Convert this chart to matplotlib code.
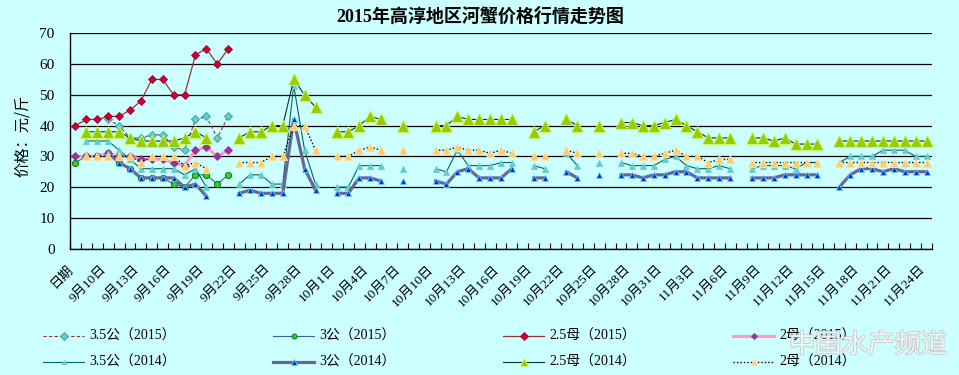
import numpy as np
import matplotlib
matplotlib.use("Agg")
import matplotlib.pyplot as plt
from matplotlib.lines import Line2D
import matplotlib.transforms as mtransforms
import matplotlib.patheffects as pe

plt.rcParams['font.family'] = ['Noto Sans CJK SC', 'DejaVu Sans']

N = None
# category labels (index 0 .. 78); index 1 = 9/8
n_cat = 79
label_idx = list(range(0, 79, 3))
label_txt = ["日期", "9月10日", "9月13日", "9月16日", "9月19日", "9月22日", "9月25日", "9月28日",
             "10月1日", "10月4日", "10月7日", "10月10日", "10月13日", "10月16日", "10月19日",
             "10月22日", "10月25日", "10月28日", "10月31日", "11月3日", "11月6日", "11月9日",
             "11月12日", "11月15日", "11月18日", "11月21日", "11月24日"]

def pad(v):
    return v + [N] * (n_cat - len(v))

s35g_2015 = pad([N, N, N, 42, 40, 36, 36, 37, 37, 33, 32, 42, 43, 36, 43])
s3g_2015 = pad([28, 30, 30, 31, 28, 26, 23, 23, 23, 21, 20, 24, 24, 21, 24])
s25m_2015 = pad([40, 42, 42, 43, 43, 45, 48, 55, 55, 50, 50, 63, 65, 60, 65])
s2m_2015 = pad([30, 30, 30, 31, 30, 30, 29, 29, 29, 28, 27, 32, 33, 30, 32])

s35g_2014 = [N, 35, 35, 35, 32, 29, 26, 26, 26, 26, 24, 26, 20, N, N, 21, 24, 24, 21, 21,
             53, 32, 21, N, 20, 20, 27, 27, 27, N, 26, N, N, 26, 25, 32, 27, 27, 27, 28,
             28, N, 27, 26, N, 31, 27, N, 28, N, 28, 27, 27, 27, 29, 30, 27, 26, 26, 27,
             26, N, 26, 27, 27, 27, 26, 28, 28, N, 28, 30, 30, 30, 32, 32, 32, 30, 30]
s3g_2014 = [N, N, N, 31, 28, 26, 23, 23, 23, 23, 20, 21, 17, N, N, 18, 19, 18, 18, 18,
            42, 26, 19, N, 18, 18, 23, 23, 22, N, 22, N, N, 22, 21, 25, 26, 23, 23, 23,
            26, N, 23, 23, N, 25, 23, N, 24, N, 24, 24, 23, 24, 24, 25, 25, 23, 23, 23,
            23, N, 23, 23, 23, 24, 24, 24, 24, N, 20, 24, 26, 26, 25, 26, 25, 25, 25]
s25m_2014 = [N, 38, 38, 38, 38, 36, 35, 35, 35, 35, 36, 38, 36, N, N, 36, 38, 38, 40, 40,
             55, 50, 46, N, 38, 38, 40, 43, 42, N, 40, N, N, 40, 40, 43, 42, 42, 42, 42,
             42, N, 38, 40, N, 42, 40, N, 40, N, 41, 41, 40, 40, 41, 42, 40, 38, 36, 36,
             36, N, 36, 36, 35, 36, 34, 34, 34, N, 35, 35, 35, 35, 35, 35, 35, 35, 35]
s2m_2014 = [N, 30, 30, 30, 30, 30, 28, 30, 30, 30, 27, 28, 26, N, N, 28, 28, 28, 30, 30,
            40, 40, 32, N, 30, 30, 32, 33, 32, N, 32, N, N, 32, 32, 33, 32, 32, 31, 32,
            31, N, 30, 30, N, 32, 31, N, 31, N, 31, 31, 30, 30, 31, 32, 30, 30, 28, 29,
            29, N, 28, 28, 28, 28, 28, 28, 28, N, 28, 28, 28, 28, 28, 28, 28, 28, 28]

names = ["3.5公（2015）", "3公（2015）", "2.5母（2015）", "2母（2015）",
         "3.5公（2014）", "3公（2014）", "2.5母（2014）", "2母（2014）"]
series = [s35g_2015, s3g_2015, s25m_2015, s2m_2015, s35g_2014, s3g_2014, s25m_2014, s2m_2014]
styles = [
    dict(color='#993333', lw=0.8, ls=(0, (3, 2)), marker='D', ms=4.5, mfc='#66CCCC', mec='#339999'),
    dict(color='#336699', lw=0.8, ls='-', marker='o', ms=4.5, mfc='#33CC33', mec='#006600'),
    dict(color='#993333', lw=0.9, ls='-', marker='D', ms=4.5, mfc='#CC0033', mec='#990033'),
    dict(color='#FF99CC', lw=2.2, ls='-', marker='D', ms=3.8, mfc='#993399', mec='#993399'),
    dict(color='#006666', lw=0.8, ls='-', marker='^', ms=3.8, mfc='#66CCCC', mec='#66CCCC'),
    dict(color='#666699', lw=2.3, ls='-', marker='^', ms=5, mfc='#0033CC', mec='#66CCFF'),
    dict(color='#003333', lw=0.8, ls='-', marker='^', ms=8, mfc='#99CC00', mec='#CCFF66'),
    dict(color='#000000', lw=1.0, ls=(0, (1, 1.5)), marker='^', ms=6, mfc='#FFCC66', mec='#FFE0A0'),
]

W, H = 959, 375
bg = '#CCFFFF'
fig = plt.figure(figsize=(W / 100, H / 100), dpi=100, facecolor=bg)

def fx(px):
    return px / W

def fy(py):
    return 1 - py / H

ax_l, ax_r, ax_t, ax_b = 70, 932, 33.3, 248.7
ax = fig.add_axes([fx(ax_l), fy(ax_b), (ax_r - ax_l) / W, (ax_b - ax_t) / H])
ax.set_facecolor(bg)

x = np.arange(n_cat)
for s, st in zip(series, styles):
    y = np.array([np.nan if v is None else v for v in s], dtype=float)
    ax.plot(x, y, linestyle=st['ls'], color=st['color'], lw=st['lw'], marker=st['marker'],
            ms=st['ms'], mfc=st['mfc'], mec=st['mec'], mew=0.6, zorder=3)

ax.set_xlim(-0.5, n_cat - 0.5)
ax.set_ylim(0, 70)
ax.set_yticks(range(0, 71, 10))
ax.set_yticklabels([str(v) for v in range(0, 71, 10)], family=['Liberation Serif'], fontsize=11)
ax.tick_params(axis='y', length=0, pad=11)
ax.yaxis.grid(True, color='black', lw=0.9)
ax.set_axisbelow(True)
for sp in ['top', 'right']:
    ax.spines[sp].set_visible(False)
ax.spines['left'].set_color('black')
ax.spines['bottom'].set_color('black')
ax.spines['left'].set_linewidth(1.0)
ax.spines['bottom'].set_linewidth(1.0)

ax.set_xticks(np.arange(-0.5, n_cat, 1.0))
ax.set_xticklabels([])
ax.tick_params(axis='x', direction='in', length=4, width=0.8, color='black')

offset = mtransforms.ScaledTranslation(-8 / 100, -14 / 100, fig.dpi_scale_trans)
trans = mtransforms.blended_transform_factory(ax.transData, ax.transAxes) + offset
for i, t in zip(label_idx, label_txt):
    ax.text(i, 0, t, transform=trans, rotation=45, rotation_mode='anchor',
            ha='right', va='top', fontsize=9.5, family=['Liberation Serif', 'Noto Sans CJK SC'])

fig.text(fx(480), fy(17), "2015年高淳地区河蟹价格行情走势图", ha='center', va='center',
         fontsize=13, fontweight='bold', family=['Liberation Serif', 'Noto Sans CJK SC'])
fig.text(fx(22), fy(136), "价格：元/斤", rotation=90, ha='center', va='center', fontsize=11)

# legend (manual layout, 2 rows x 4 columns)
col_x = [43, 273, 503, 733]
row_y = [336, 362]
for k, (nm, st) in enumerate(zip(names, styles)):
    r, c = divmod(k, 4)
    x0, yy = col_x[c], row_y[r]
    fig.add_artist(Line2D([fx(x0), fx(x0 + 41)], [fy(yy), fy(yy)], transform=fig.transFigure,
                          linestyle=st['ls'], color=st['color'], lw=st['lw']))
    fig.add_artist(Line2D([fx(x0 + 21)], [fy(yy)], transform=fig.transFigure, linestyle='none',
                          marker=st['marker'], ms=st['ms'] * 0.8, mfc=st['mfc'], mec=st['mec'], mew=0.6))
    fig.text(fx(x0 + 46), fy(yy), nm, ha='left', va='center', fontsize=10,
             family=['Liberation Serif', 'Noto Sans CJK SC'])

# watermark
fig.text(fx(868), fy(345), "中国水产频道", ha='center', va='center', fontsize=19,
         color='white', alpha=0.75, style='italic',
         path_effects=[pe.withStroke(linewidth=1.2, foreground='#BBBBBB')])

fig.savefig("out.png", dpi=100, facecolor=bg)
